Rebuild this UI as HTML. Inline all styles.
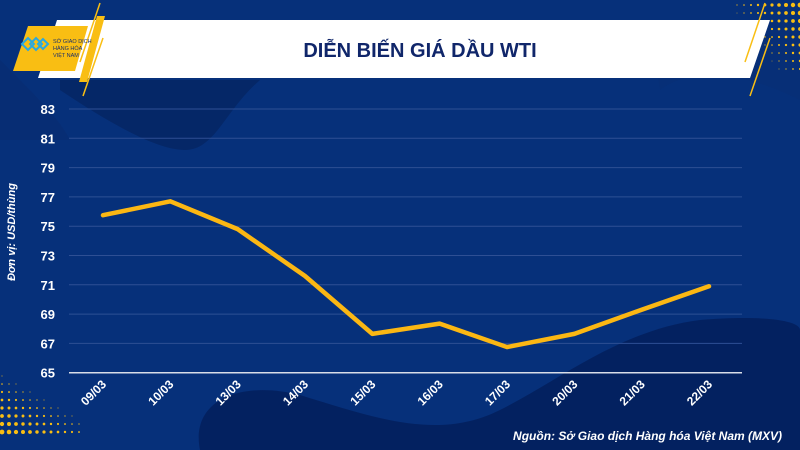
<!DOCTYPE html>
<html><head><meta charset="utf-8"><style>
html,body{margin:0;padding:0;width:800px;height:450px;overflow:hidden;background:#06307a;font-family:"Liberation Sans",sans-serif}
</style></head><body>
<svg id="c" width="800" height="450" viewBox="0 0 800 450" xmlns="http://www.w3.org/2000/svg">
<defs>
<linearGradient id="bg" x1="0" y1="0" x2="1" y2="1"><stop offset="0" stop-color="#0a2f78"/><stop offset="1" stop-color="#062a6c"/></linearGradient>
</defs>
<rect width="800" height="450" fill="#06307a"/>
<path d="M60,90 C120,130 160,150 185,150 C215,150 225,110 260,80 L60,80Z" fill="#052563" opacity="0.8"/>
<path d="M0,60 C40,100 60,120 70,140 L0,140Z" fill="#082c70" opacity="0.6"/>
<path d="M200,450 C190,400 240,380 300,395 C380,420 440,440 500,410 C560,380 620,330 700,320 C760,315 800,320 800,330 L800,450Z" fill="#041f5c" opacity="0.85"/>
<path d="M660,90 C700,60 760,80 800,100 L800,20 L650,20Z" fill="#082f76" opacity="0.7"/>
<g id="dots"></g>
<polygon points="57,20 770,20 750,78 38,78" fill="#ffffff"/>
<polygon points="28,26 88,26 75,71 13,71" fill="#f9be13"/>
<line x1="100" y1="3" x2="80" y2="62" stroke="#f9be13" stroke-width="1.5"/>
<polygon points="97,16 105,16 87,82 79,82" fill="#f9be13"/>
<line x1="103" y1="38" x2="83" y2="96" stroke="#f9be13" stroke-width="1.5"/>
<line x1="765" y1="3" x2="745" y2="62" stroke="#f9be13" stroke-width="1.5"/>
<line x1="770" y1="38" x2="750" y2="96" stroke="#f9be13" stroke-width="1.5"/>
<g stroke="#2aa8e0" stroke-width="2" fill="none">
<path d="M22,44 l6,-6 l6,6 l-6,6z"/><path d="M30,44 l6,-6 l6,6 l-6,6z"/><path d="M38,44 l5,-5 l5,5 l-5,5z"/>
</g>
<text x="53" y="43" font-size="5.5" fill="#1b2f6b">SỞ GIAO DỊCH</text>
<text x="53" y="50" font-size="5.5" fill="#1b2f6b">HÀNG HÓA</text>
<text x="53" y="57" font-size="5.5" fill="#1b2f6b">VIỆT NAM</text>
<text x="420" y="57" text-anchor="middle" font-size="20" font-weight="bold" fill="#10266a">DIỄN BIẾN GIÁ DẦU WTI</text>
<text transform="translate(15,232) rotate(-90)" text-anchor="middle" font-size="11" font-style="italic" font-weight="bold" fill="#ffffff">Đơn vị: USD/thùng</text>
<g id="plot"></g>
<text x="782" y="440" text-anchor="end" font-size="12" font-style="italic" font-weight="bold" fill="#ffffff">Nguồn: Sở Giao dịch Hàng hóa Việt Nam (MXV)</text>
</svg>
<script>
const categories=["09/03","10/03","13/03","14/03","15/03","16/03","17/03","20/03","21/03","22/03"];
const prices=[75.75,76.7,74.8,71.6,67.65,68.35,66.75,67.65,69.3,70.9];
const yTicks=[65,67,69,71,73,75,77,79,81,83];
const NS="http://www.w3.org/2000/svg";
const x0=69,x1=742,yTop=109,yBot=372.7,yMin=65,yMax=83;
const xs=i=>103+i*(709-103)/(categories.length-1);
const ys=v=>yBot-(v-yMin)/(yMax-yMin)*(yBot-yTop);
const plot=document.getElementById('plot');
function mk(t,a){const e=document.createElementNS(NS,t);for(const k in a)e.setAttribute(k,a[k]);return e;}
yTicks.forEach(v=>{
 const y=ys(v);
 const l=mk('line',{x1:x0,x2:x1,y1:y,y2:y,stroke:v===yMin?'#d8dde8':'#2e4f94','stroke-width':v===yMin?1.5:1});
 
 
 plot.appendChild(l);
 const t=mk('text',{x:55,y:y+5,'text-anchor':'end','font-size':13,'font-weight':'bold',fill:'#fff'});
 t.textContent=v;
 
 
 plot.appendChild(t);
});
categories.forEach((c,i)=>{
 const x=xs(i)+4,y=385;
 const t=mk('text',{x:x,y:y,'text-anchor':'end','font-size':12,'font-weight':'bold',fill:'#fff',transform:`rotate(-45 ${x} ${y})`});
 t.textContent=c;
 
 
 plot.appendChild(t);
});
const line=mk('polyline',{points:prices.map((v,i)=>xs(i)+','+ys(v)).join(' '),fill:'none',stroke:'#fbb713','stroke-width':4.5,'stroke-linejoin':'round','stroke-linecap':'round'});


plot.appendChild(line);
const dots=document.getElementById('dots');
for(let r=0;r<10;r++)for(let c=0;c<12;c++){
 const cx=c*7+2,cy=360+r*8,rad=Math.max(0.4,(r/9)*2.4-(c/12)*1.6);
 if(rad>0.4){const d=mk('circle',{cx:cx,cy:cy,r:rad,fill:'#f9be13'});dots.appendChild(d);}
}
for(let r=0;r<9;r++)for(let c=0;c<10;c++){
 const cx=800-c*7,cy=5+r*8,rad=Math.max(0,2.4-(c/10)*2-(r/9)*1.5);
 if(rad>0.4){const d=mk('circle',{cx:cx,cy:cy,r:rad,fill:'#f9be13'});dots.appendChild(d);}
}
</script>
</body></html>
